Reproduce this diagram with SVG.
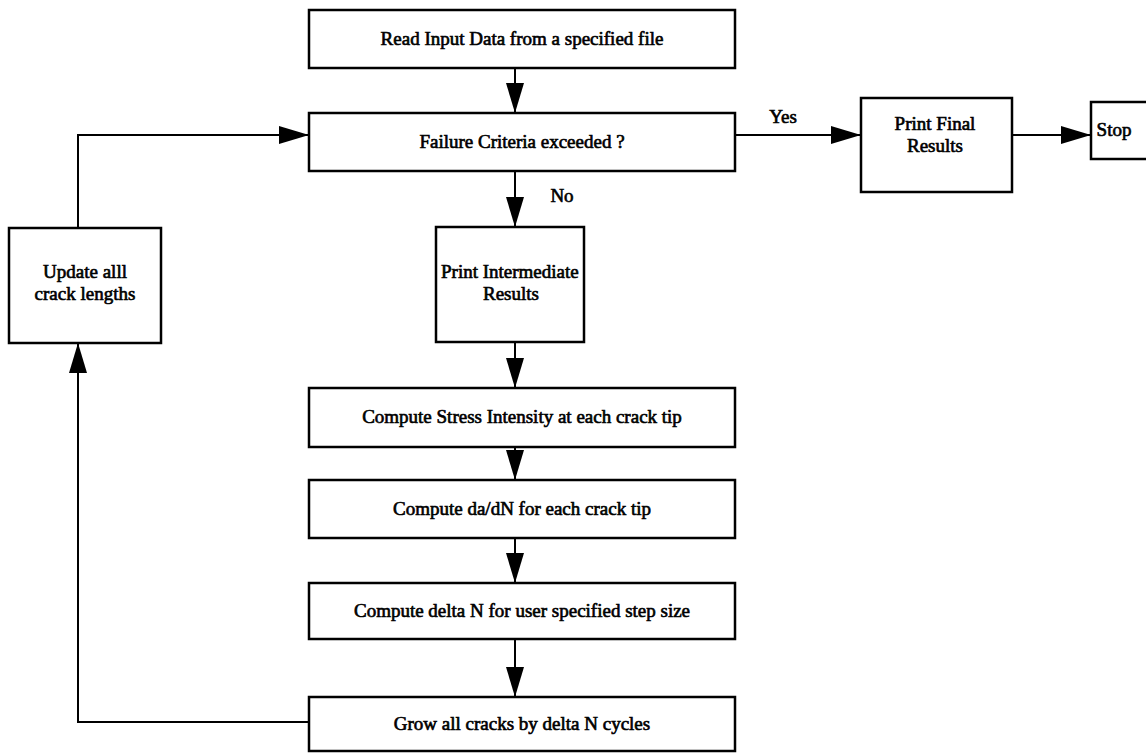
<svg xmlns="http://www.w3.org/2000/svg" width="1146" height="753" viewBox="0 0 1146 753">
<style>
.box{fill:#fff;stroke:#000;stroke-width:2.5}
.t{font-family:"Liberation Serif","Times New Roman",serif;font-size:19px;fill:#000;stroke:#000;stroke-width:0.65;text-anchor:middle}
.c{fill:none;stroke:#000;stroke-width:2;marker-end:url(#ah)}
</style>
<defs>
<marker id="ah" markerUnits="userSpaceOnUse" markerWidth="30" markerHeight="18" refX="30" refY="9" orient="auto">
<path d="M0,0 L30,9 L0,18 z" fill="#000"/>
</marker>
</defs>
<rect width="1146" height="753" fill="#fff"/>
<g id="connectors">
<path class="c" d="M515,68 V113"/>
<path class="c" d="M78,228 V135 H309"/>
<path class="c" d="M735,135 H861"/>
<path class="c" d="M1012,135 H1091"/>
<path class="c" d="M515,171 V227"/>
<path class="c" d="M515,342 V388"/>
<path class="c" d="M515,447 V480"/>
<path class="c" d="M515,538 V583"/>
<path class="c" d="M515,639 V697"/>
<path class="c" d="M309,722 H78 V343"/>
<text class="t" x="783" y="123">Yes</text>
<text class="t" x="562" y="202">No</text>
</g>
<g id="read"><rect class="box" x="309" y="10" width="426" height="58"/><text class="t" x="522" y="45">Read Input Data from a specified file</text></g>
<g id="failure"><rect class="box" x="309" y="113" width="426" height="58"/><text class="t" x="522" y="148">Failure Criteria exceeded ?</text></g>
<g id="final"><rect class="box" x="861" y="98" width="151" height="94"/><text class="t" x="935" y="130">Print Final</text><text class="t" x="935" y="152">Results</text></g>
<g id="stop"><rect class="box" x="1091" y="102" width="60" height="57"/><text class="t" x="1114" y="136">Stop</text></g>
<g id="update"><rect class="box" x="9" y="228" width="152" height="115"/><text class="t" x="85" y="278">Update alll</text><text class="t" x="85" y="300">crack lengths</text></g>
<g id="intermediate"><rect class="box" x="436" y="227" width="148" height="115"/><text class="t" x="441" y="278" style="text-anchor:start">Print Intermediate</text><text class="t" x="511" y="300">Results</text></g>
<g id="stress"><rect class="box" x="309" y="388" width="426" height="59"/><text class="t" x="522" y="423">Compute Stress Intensity at each crack tip</text></g>
<g id="dadn"><rect class="box" x="309" y="480" width="426" height="58"/><text class="t" x="522" y="515">Compute da/dN for each crack tip</text></g>
<g id="deltan"><rect class="box" x="309" y="583" width="426" height="56"/><text class="t" x="522" y="617">Compute delta N for user specified step size</text></g>
<g id="grow"><rect class="box" x="309" y="697" width="426" height="54"/><text class="t" x="522" y="730">Grow all cracks by delta N cycles</text></g>
</svg>
